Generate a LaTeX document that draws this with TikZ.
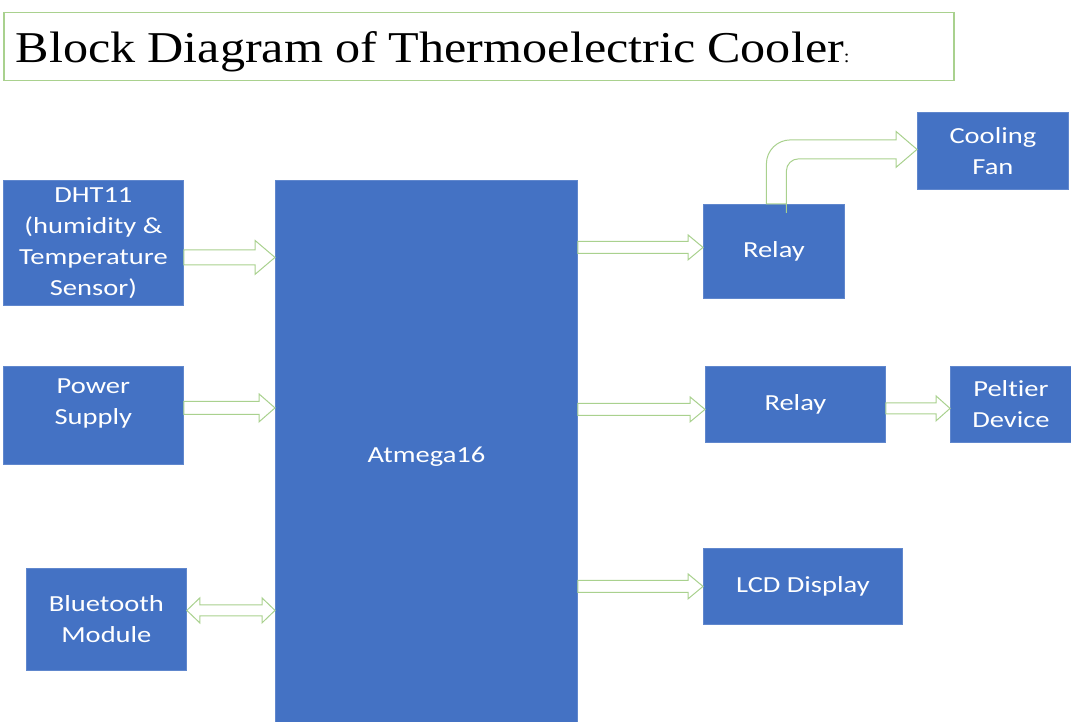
\documentclass[tikz,border=0pt]{standalone}
\usepackage{fontspec}
\usepackage{graphicx}
\setmainfont{Liberation Serif}
\newfontfamily\boxfont[FakeStretch=1.24,Ligatures=NoCommon]{Carlito}
\newfontfamily\titlefont{Liberation Serif}
\usepackage{tikz}
\usetikzlibrary{calc}
\definecolor{boxblue}{HTML}{4472C4}
\definecolor{flowgreen}{HTML}{A9D18E}
\newcommand{\tsp}{\hspace{0.24em}}
\tikzset{block/.style={fill=boxblue,draw=boxblue!85!white,line width=0.8pt,text=white,font=\boxfont\fontsize{23}{31}\selectfont,align=center,inner sep=0pt,anchor=north west},
titlebox/.style={draw=flowgreen,line width=1.5pt,anchor=north west,minimum width=950pt,minimum height=68pt,text width=926pt,inner xsep=12pt,inner ysep=0pt,align=left},
flow/.style n args={3}{draw=flowgreen,fill=white,line width=1pt,to path={let \p1=(\tikztostart),\p2=(\tikztotarget) in (\x1,\y1+#1)--(\x2-#3,\y1+#1)--(\x2-#3,\y1+#2)--(\x2,\y1)--(\x2-#3,\y1-#2)--(\x2-#3,\y1-#1)--(\x1,\y1-#1)--cycle}},
flowboth/.style n args={3}{draw=flowgreen,fill=white,line width=1pt,to path={let \p1=(\tikztostart),\p2=(\tikztotarget) in (\x1,\y1)--(\x1+#3,\y1+#2)--(\x1+#3,\y1+#1)--(\x2-#3,\y1+#1)--(\x2-#3,\y1+#2)--(\x2,\y1)--(\x2-#3,\y1-#2)--(\x2-#3,\y1-#1)--(\x1+#3,\y1-#1)--(\x1+#3,\y1-#2)--cycle}},
bentflow/.style={draw=flowgreen,fill=white,line width=1pt,to path={let \p1=(\tikztostart),\p2=(\tikztotarget) in (\x1-10pt,\y1)[rounded corners=24pt]|-(\x2-45pt,\y2+9.5pt)[sharp corners]--(\x2-21pt,\y2+9.5pt)--(\x2-21pt,\y2+18pt)--(\x2,\y2)--(\x2-21pt,\y2-18pt)--(\x2-21pt,\y2-9.5pt)--(\x2-45pt,\y2-9.5pt)[rounded corners=12pt]-|(\x1+10pt,\y1+3pt)[sharp corners]--(\x1+10pt,\y1)--cycle}}}

\begin{document}
\begin{tikzpicture}[x=1pt,y=-1pt]
\useasboundingbox (0,0) rectangle (1071,722);
% title
\node[titlebox] (title) at (3,12) {\titlefont\fontsize{44}{50}\selectfont\raisebox{-16pt}[0pt][0pt]{\scalebox{1.14}[1]{Block\tsp Diagram\tsp of\tsp Thermoelectric\tsp Cooler{\fontsize{18}{18}\selectfont:}}}};
% inputs
\node[block,minimum width=180pt,minimum height=125pt] (dht) at (3,180) {DHT11\\(humidity \&\\Temperature\\Sensor)};
\node[block,minimum width=180pt,minimum height=98pt,label={[font=\boxfont\fontsize{23}{31}\selectfont,text=white,align=center,yshift=12pt]center:Power\\Supply}] (pwr) at (3,366) {};
\node[block,minimum width=160pt,minimum height=102pt] (bt) at (26,568) {Bluetooth\\Module};
% controller
\node[block,minimum width=302pt,minimum height=542pt] (mcu) at (275,180) {\raisebox{-11pt}[0pt][0pt]{Atmega16}};
% outputs
\node[block,minimum width=141pt,minimum height=94pt] (rel1) at (703,204) {Relay};
\node[block,minimum width=151pt,minimum height=77pt] (fan) at (917,112) {Cooling\\Fan};
\node[block,minimum width=180pt,minimum height=76pt] (rel2) at (705,366) {Relay};
\node[block,minimum width=121pt,minimum height=76pt] (pelt) at (950,366) {Peltier\\Device};
\node[block,minimum width=199pt,minimum height=76pt] (lcd) at (703,548) {LCD Display};
% connectors
\draw[flow={7.5pt}{17pt}{20pt}] ([yshift=-14.5pt]dht.east) to (mcu.west);
\draw[flow={6.5pt}{14pt}{16pt}] ([yshift=7.5pt]pwr.east) to (mcu.west);
\draw[flowboth={5.5pt}{12.5pt}{13pt}] ([yshift=9pt]bt.east) to (mcu.west);
\draw[flow={6pt}{12.5pt}{15pt}] ($(mcu.east |- rel1.west)+(0,-4)$) to (rel1.west);
\draw[flow={6pt}{12.5pt}{15pt}] ($(mcu.east |- rel2.west)+(0,5)$) to (rel2.west);
\draw[flow={6pt}{12.5pt}{15pt}] (mcu.east |- lcd.west) to (lcd.west);
\draw[flow={5.5pt}{12.5pt}{14pt}] ([yshift=-4pt]rel2.east) to (pelt.west);
\draw[bentflow] ([xshift=2.5pt]rel1.north) to ([yshift=1.5pt]fan.west);
\end{tikzpicture}
\end{document}
